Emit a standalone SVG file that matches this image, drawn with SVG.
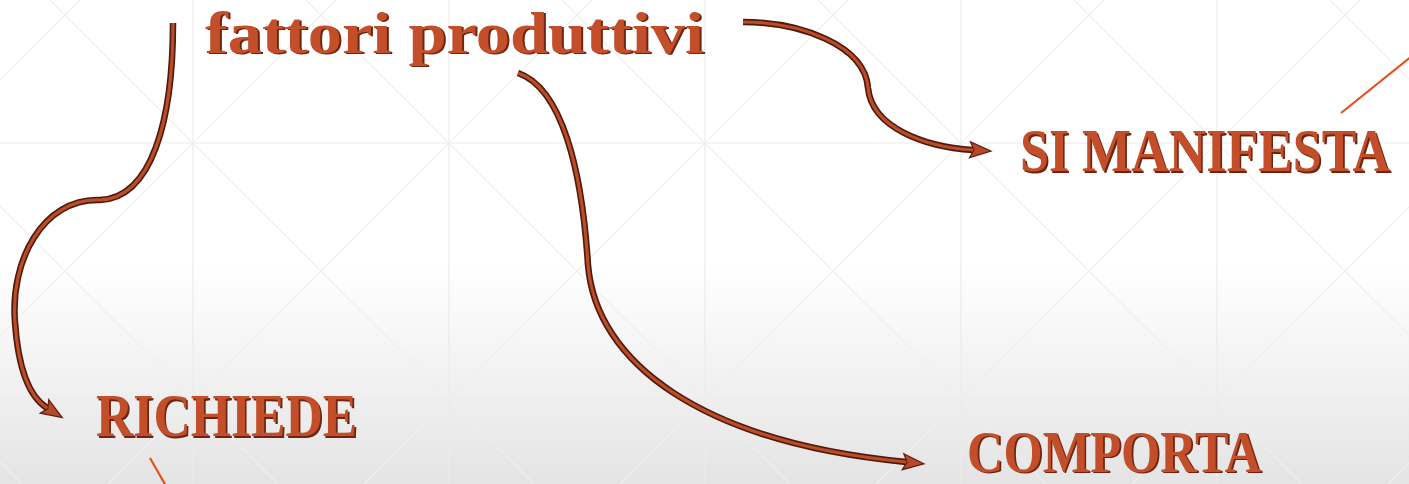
<svg xmlns="http://www.w3.org/2000/svg" width="1409" height="484" viewBox="0 0 1409 484">
  <defs>
    <linearGradient id="bg" x1="0" y1="0" x2="0" y2="1">
      <stop offset="0" stop-color="#ffffff"/>
      <stop offset="0.55" stop-color="#ffffff"/>
      <stop offset="1" stop-color="#e4e4e4"/>
    </linearGradient>
    <marker id="head" markerUnits="userSpaceOnUse" markerWidth="24" markerHeight="20" refX="3" refY="9" orient="auto" overflow="visible">
      <path d="M0,1 L21,9 L0,17 L4,9 Z" fill="#b8482a" stroke="#5c1d0d" stroke-width="1.2" stroke-linejoin="miter"/>
    </marker>
    <style>
      .grid line { stroke: #ebebeb; stroke-width: 1.2; }
      .grid .diag { stroke: #efefef; stroke-width: 1.2; }
      .wire-out { fill: none; stroke: #4e1a0b; stroke-width: 6.5; stroke-linecap: butt; }
      .wire-in { fill: none; stroke: #bb4c28; stroke-width: 3.2; stroke-linecap: butt; }
      .label { font-family: "Liberation Serif", "DejaVu Serif", serif; font-weight: bold; }
      .shade { fill: #6e2412; }
      .face { fill: #c24f2a; }
      .accent { stroke: #e5501d; stroke-width: 2.2; fill: none; }
    </style>
  </defs>

  <!-- background -->
  <rect x="0" y="0" width="1409" height="484" fill="url(#bg)"/>

  <g class="grid">
    <line x1="193" y1="0" x2="193" y2="484"/>
    <line x1="449" y1="0" x2="449" y2="484"/>
    <line x1="705" y1="0" x2="705" y2="484"/>
    <line x1="961" y1="0" x2="961" y2="484"/>
    <line x1="1217" y1="0" x2="1217" y2="484"/>
    <line x1="0" y1="143" x2="1409" y2="143"/>
    <line x1="0" y1="399" x2="1409" y2="399"/>
    <line class="diag" x1="-462" y1="0" x2="22" y2="484"/>
    <line class="diag" x1="-206" y1="0" x2="278" y2="484"/>
    <line class="diag" x1="50" y1="0" x2="534" y2="484"/>
    <line class="diag" x1="306" y1="0" x2="790" y2="484"/>
    <line class="diag" x1="562" y1="0" x2="1046" y2="484"/>
    <line class="diag" x1="818" y1="0" x2="1302" y2="484"/>
    <line class="diag" x1="1074" y1="0" x2="1558" y2="484"/>
    <line class="diag" x1="1330" y1="0" x2="1814" y2="484"/>
    <line class="diag" x1="80" y1="0" x2="-404" y2="484"/>
    <line class="diag" x1="336" y1="0" x2="-148" y2="484"/>
    <line class="diag" x1="592" y1="0" x2="108" y2="484"/>
    <line class="diag" x1="848" y1="0" x2="364" y2="484"/>
    <line class="diag" x1="1104" y1="0" x2="620" y2="484"/>
    <line class="diag" x1="1360" y1="0" x2="876" y2="484"/>
    <line class="diag" x1="1616" y1="0" x2="1132" y2="484"/>
    <line class="diag" x1="1872" y1="0" x2="1388" y2="484"/>
  </g>

  <!-- thin accent strokes -->
  <g id="accents">
    <line class="accent" x1="1341" y1="113" x2="1412" y2="56"/>
    <line class="accent" x1="150" y1="458" x2="166" y2="486"/>
  </g>

  <!-- connectors -->
  <g id="connectors">
    <g id="to-richiede">
      <path class="wire-out" d="M173,23 C173,120 152,198 100,200 C42,198 10,262 15,322 C18,366 28,396 47,408" marker-end="url(#head)"/>
      <path class="wire-in" d="M173,23 C173,120 152,198 100,200 C42,198 10,262 15,322 C18,366 28,396 47,408"/>
    </g>
    <g id="to-manifesta">
      <path class="wire-out" d="M743,22 C800,22 865,45 868,88 C872,128 925,147 973,150" marker-end="url(#head)"/>
      <path class="wire-in" d="M743,22 C800,22 865,45 868,88 C872,128 925,147 973,150"/>
    </g>
    <g id="to-comporta">
      <path class="wire-out" d="M518,73 C562,88 582,170 588,265 C596,362 700,442 906,462" marker-end="url(#head)"/>
      <path class="wire-in" d="M518,73 C562,88 582,170 588,265 C596,362 700,442 906,462"/>
    </g>
  </g>

  <!-- nodes: a dark copy under an orange face gives the raised lettering -->
  <g id="node-fattori" class="label" font-size="60">
    <text class="shade" x="207" y="54" textLength="499" lengthAdjust="spacingAndGlyphs">fattori produttivi</text>
    <text class="face" x="205" y="52.5" textLength="499" lengthAdjust="spacingAndGlyphs">fattori produttivi</text>
  </g>
  <g id="node-manifesta" class="label" font-size="61" transform="translate(1020,171) scale(0.852,1)">
    <text class="shade" x="2" y="1.5">SI MANIFESTA</text>
    <text class="face" x="0" y="0">SI MANIFESTA</text>
  </g>
  <g id="node-richiede" class="label" font-size="61" transform="translate(96,436) scale(0.847,1)">
    <text class="shade" x="2" y="1.5">RICHIEDE</text>
    <text class="face" x="0" y="0">RICHIEDE</text>
  </g>
  <g id="node-comporta" class="label" font-size="59" transform="translate(967,472) scale(0.855,1)">
    <text class="shade" x="2" y="1.2">COMPORTA</text>
    <text class="face" x="0" y="0">COMPORTA</text>
  </g>
</svg>
